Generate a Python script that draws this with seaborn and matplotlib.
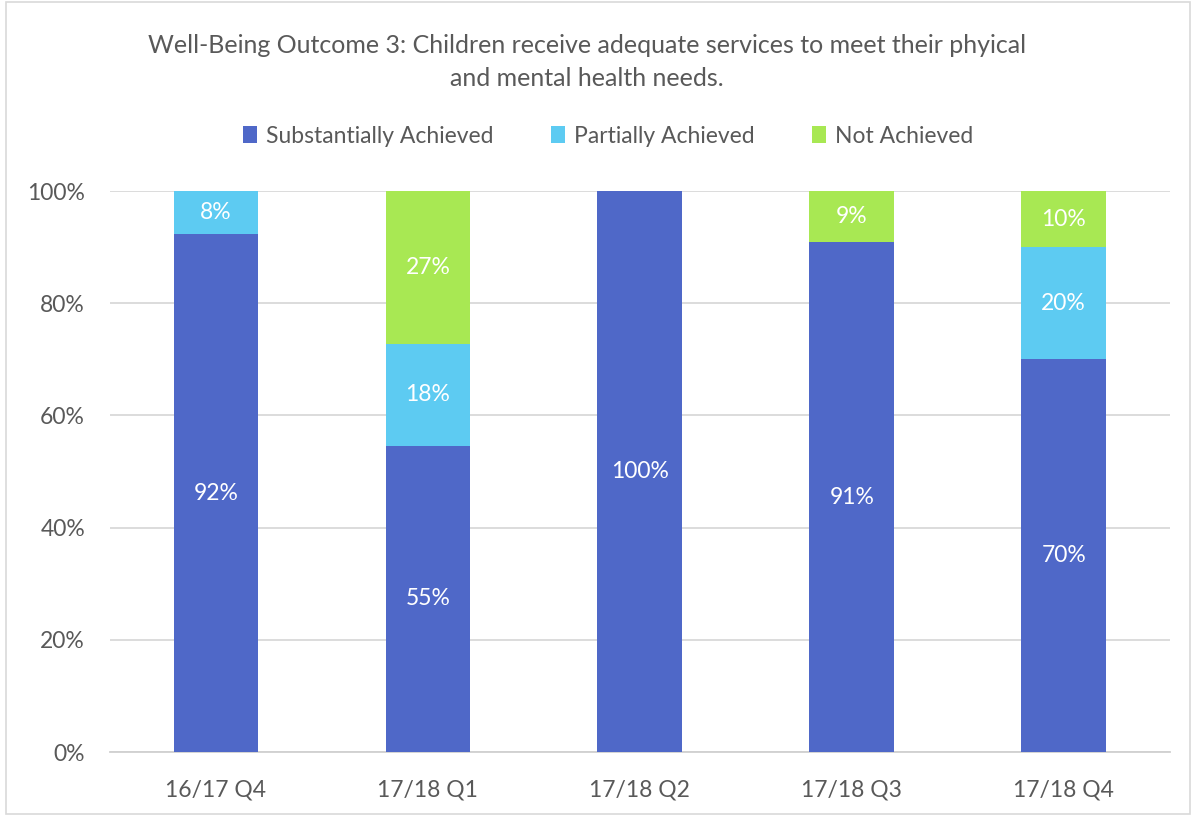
import pandas as pd
import matplotlib.pyplot as plt
import seaborn as sns
import numpy as np

# Données
quarters = ['16/17 Q4', '17/18 Q1', '17/18 Q2', '17/18 Q3', '17/18 Q4']
substantial = [92.3, 54.6, 100.0, 90.9, 70.0]
partial = [7.7, 18.2, 0.0, 0.0, 20.0]
not_achieved = [0.0, 27.2, 0.0, 9.1, 10.0]
series_names = ['Substantially Achieved', 'Partially Achieved', 'Not Achieved']
colors = ['#4F68C8', '#5DCBF2', '#A8E853']

df = pd.DataFrame({'quarter': quarters,
                   series_names[0]: substantial,
                   series_names[1]: partial,
                   series_names[2]: not_achieved})

sns.set_style('white')
plt.rcParams['font.family'] = ['Lato', 'DejaVu Sans']
text_col = '#595959'

fig = plt.figure(figsize=(11.96, 8.16), dpi=100)
ax = fig.add_axes([0.092, 0.0784, 0.886, 0.6875])

# Barres empilées
bottom = np.zeros(len(quarters))
for name, col in zip(series_names, colors):
    vals = df[name].to_numpy()
    sns.barplot(data=df, x='quarter', y=name, color=col, width=0.4,
                bottom=bottom, ax=ax, label=name, saturation=1, zorder=3,
                linewidth=0)
    cont = ax.containers[-1]
    labels = [f'{v:.0f}%' if v > 0 else '' for v in vals]
    ax.bar_label(cont, labels=labels, label_type='center', color='white', fontsize=16.5)
    bottom = bottom + vals

ax.set_ylim(0, 100)
ax.set_xlim(-0.5, 4.5)
ax.set_yticks(range(0, 101, 20))
ax.set_yticklabels([f'{t}%' for t in range(0, 101, 20)])
ax.set_xlabel('')
ax.set_ylabel('')
ax.yaxis.grid(True, color='#D9D9D9', linewidth=1.3, zorder=0)
ax.tick_params(axis='both', length=0, labelsize=16.5, labelcolor=text_col)
ax.tick_params(axis='y', pad=18)
ax.tick_params(axis='x', pad=20)
for s in ['top', 'right', 'left']:
    ax.spines[s].set_visible(False)
ax.spines['bottom'].set_color('#D0D0D0')
ax.spines['bottom'].set_linewidth(1.3)

# Légende
ax.legend(loc='center', bbox_to_anchor=(0.47, 1 + 55 / 561), ncol=3,
          frameon=False, fontsize=16.5, labelcolor=text_col, handlelength=0.6,
          handleheight=0.7, columnspacing=2.5, handletextpad=0.4)

# Titre
fig.text(0.491, 1 - 62 / 816, 'Well-Being Outcome 3: Children receive adequate services to meet their phyical\nand mental health needs.',
         ha='center', va='center', fontsize=18, color=text_col, linespacing=1.5)

# Cadre
fig.patches.append(plt.Rectangle((0.005, 0.003), 0.99, 0.994, transform=fig.transFigure,
                                 fill=False, edgecolor='#D9D9D9', linewidth=1.2))

plt.savefig('out.png', dpi=100)
plt.close()
